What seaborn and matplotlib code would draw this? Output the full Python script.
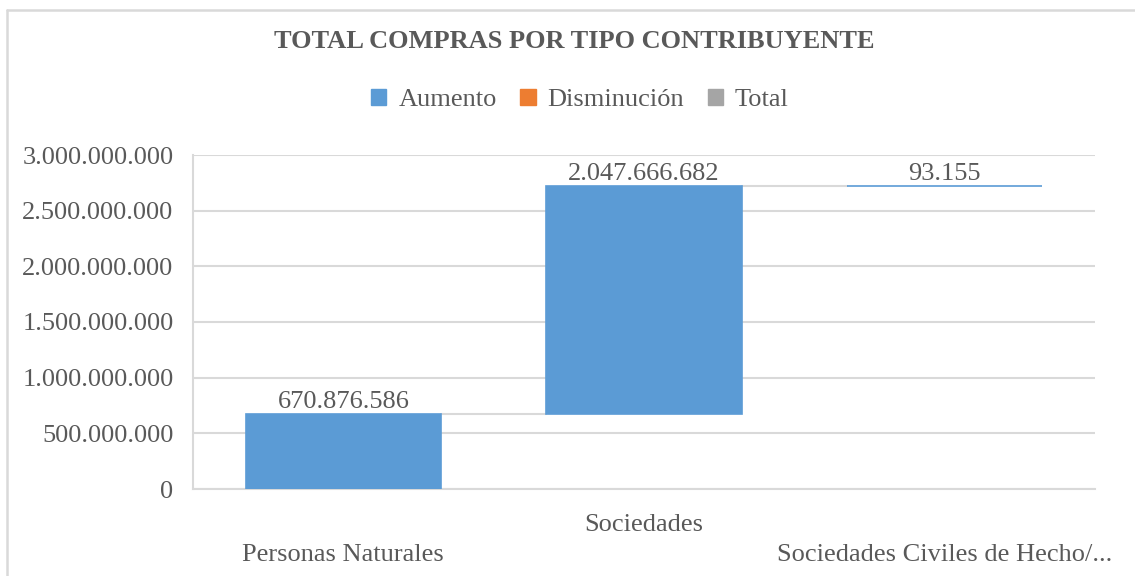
import matplotlib
matplotlib.use("Agg")
import matplotlib.pyplot as plt
import matplotlib.ticker as mticker
from matplotlib.patches import Patch
from matplotlib.lines import Line2D
import numpy as np
import pandas as pd
import seaborn as sns

# ---- data ----
categories = ["Personas Naturales", "Sociedades", "Sociedades Civiles de Hecho/..."]
increments = [670876586, 2047666682, 93155]
label_texts = ["670.876.586", "2.047.666.682", "93.155"]
legend_labels = ["Aumento", "Disminución", "Total"]
title_text = "TOTAL COMPRAS POR TIPO CONTRIBUYENTE"
y_ticks = [0, 500000000, 1000000000, 1500000000, 2000000000, 2500000000, 3000000000]

BLUE = "#5B9BD5"
ORANGE = "#ED7D31"
GREY = "#A5A5A5"
TXT = "#595959"
GRID = "#D9D9D9"
FS = 19

sns.set_theme(style="white")
plt.rcParams["font.family"] = ["Liberation Serif", "DejaVu Serif"]

ends = np.cumsum(increments)
bases = ends - np.array(increments)
df = pd.DataFrame({"cat": categories, "delta": increments, "base": bases})

fig = plt.figure(figsize=(11.35, 5.76), dpi=100)
ax = fig.add_axes([193 / 1135, 1 - 489 / 576, (1095 - 193) / 1135, (489 - 155) / 576])

bw = 0.65
sns.barplot(data=df, x="cat", y="delta", bottom=df["base"].values, color=BLUE,
            saturation=1, width=bw, edgecolor=BLUE, linewidth=1.2, ax=ax, zorder=3)

# connectors
for i in range(len(categories) - 1):
    ax.plot([i + bw / 2, i + 1 - bw / 2], [ends[i], ends[i]], color=GRID, lw=1.5, zorder=2)

# data labels
for i, (e, t) in enumerate(zip(ends, label_texts)):
    ax.annotate(t, (i, e), xytext=(0, 1), textcoords="offset points",
                ha="center", va="bottom", fontsize=FS, color=TXT, zorder=4)

ax.set_ylim(0, 3000000000)
ax.set_xlim(-0.5, 2.5)
ax.set_yticks(y_ticks)
ax.yaxis.set_major_formatter(mticker.FuncFormatter(lambda v, p: f"{int(v):,}".replace(",", ".")))
ax.grid(axis="y", color=GRID, lw=1.5, zorder=0)
ax.set_axisbelow(True)
for s in ["top", "right"]:
    ax.spines[s].set_visible(False)
ax.spines["left"].set_color(GRID)
ax.spines["left"].set_linewidth(1.5)
ax.spines["bottom"].set_color(GRID)
ax.spines["bottom"].set_linewidth(1.5)
ax.tick_params(axis="both", length=0, labelsize=FS, labelcolor=TXT)
ax.tick_params(axis="y", pad=14)
ax.set_xlabel("")
ax.set_ylabel("")
ax.set_xticks(range(len(categories)))
ax.set_xticklabels(categories)
pads = [39.5, 18, 39.5]
for tk, p in zip(ax.xaxis.get_major_ticks(), pads):
    tk.set_pad(p)

fig.text(574 / 1135, 1 - 42 / 576, title_text, ha="center", va="center",
         fontsize=FS, fontweight="bold", color=TXT)

handles = [Patch(facecolor=c, edgecolor=c) for c in (BLUE, ORANGE, GREY)]
fig.legend(handles, legend_labels, loc="center", bbox_to_anchor=(580 / 1135, 1 - 100 / 576),
           ncol=3, frameon=False, fontsize=FS, labelcolor=TXT, handlelength=0.57,
           handleheight=0.57, handletextpad=0.45, columnspacing=0.9, borderaxespad=0)

# chart border
fig.add_artist(Line2D([7 / 1135, 1], [1 - 10 / 576, 1 - 10 / 576], transform=fig.transFigure,
                      color=GRID, lw=1.8))
fig.add_artist(Line2D([7 / 1135, 7 / 1135], [0, 1 - 10 / 576], transform=fig.transFigure,
                      color=GRID, lw=1.8))

fig.savefig("out.png", dpi=100, facecolor="white")
